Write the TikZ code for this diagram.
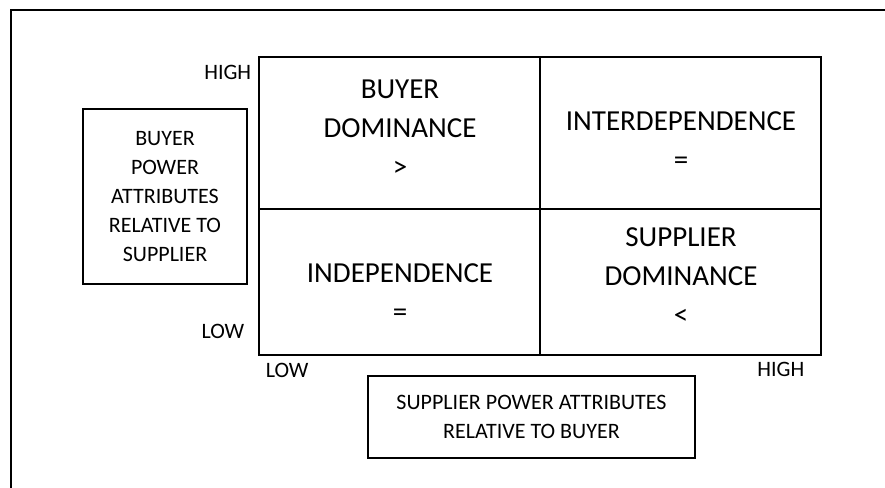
\documentclass[tikz,border=0pt]{standalone}
\usepackage{fontspec}
\setmainfont{Carlito}
\usepackage{tikz}
\usetikzlibrary{positioning}

\tikzset{
  big/.style={align=center,inner sep=0pt,font=\fontsize{29}{39}\selectfont},
  small/.style={align=center,inner sep=0pt,font=\fontsize{22}{29}\selectfont},
  axisbox/.style={draw,small,line width=1.6pt},
}

\begin{document}
\begin{tikzpicture}[x=1pt,y=-1pt,line width=1.6pt]
\useasboundingbox (0,0) rectangle (885,487);
\clip (0,0) rectangle (885,487);
\draw (11,10) rectangle (950,550);
% the matrix
\draw (259,57) rectangle (821,355);
\draw (540,57) -- (540,355);
\draw[line width=2.6pt] (259,209) -- (821,209);
\node[big] (bd) at (400,128) {BUYER\\DOMINANCE\\>};
\node[big] (id) at (681,141) {INTERDEPENDENCE\\=};
\node[big] (in) at (400,293) {INDEPENDENCE\\=};
\node[big] (sd) at (681,276) {SUPPLIER\\DOMINANCE\\<};
% axis ends
\node[small,anchor=east] (yhi) at (252,72) {HIGH};
\node[small,anchor=east] (ylo) at (245,331) {LOW};
\node[small,anchor=west] (xlo) at (265,370) {LOW};
\node[small,anchor=east] (xhi) at (805,369) {HIGH};
% axis titles
\node[axisbox,minimum width=164pt,minimum height=175pt] (buyer) at (165,196.5)
  {BUYER\\POWER\\ATTRIBUTES\\RELATIVE TO\\SUPPLIER};
\node[axisbox,minimum width=327pt,minimum height=82pt] (supplier) at (531.5,417)
  {SUPPLIER POWER ATTRIBUTES\\RELATIVE TO BUYER};
\end{tikzpicture}
\end{document}
